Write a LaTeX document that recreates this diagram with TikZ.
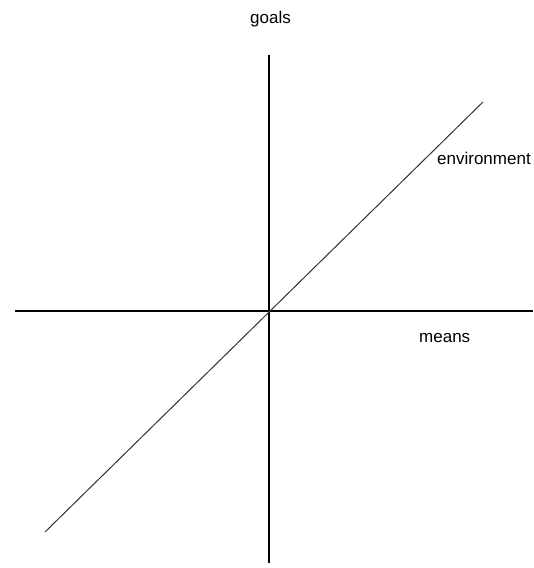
\documentclass[tikz,border=0pt]{standalone}
\usepackage{fontspec}
\setmainfont{Liberation Sans}
\begin{document}
\begin{tikzpicture}[x=1pt,y=1pt,
  axis/.style={line width=1.8pt,black},
  diag/.style={line width=1pt,black!80},
  lbl/.style={inner sep=0pt,font=\fontsize{17}{20}\selectfont}]
\useasboundingbox (0,0) rectangle (534,568);
\coordinate (vt) at (269,513);
\coordinate (vb) at (269,5);
\coordinate (hl) at (15,257);
\coordinate (hr) at (533,257);
\coordinate (dl) at (45,36);
\coordinate (dr) at (483,466);
\draw[axis] (vt) -- (vb);
\draw[axis] (hl) -- (hr);
\draw[diag] (dl) -- (dr);
\node[lbl,anchor=base west] (goals) at (250,544) {goals};
\node[lbl,anchor=base west] (env) at (437,403) {environment};
\node[lbl,anchor=base west] (means) at (419,225) {means};
\end{tikzpicture}
\end{document}
